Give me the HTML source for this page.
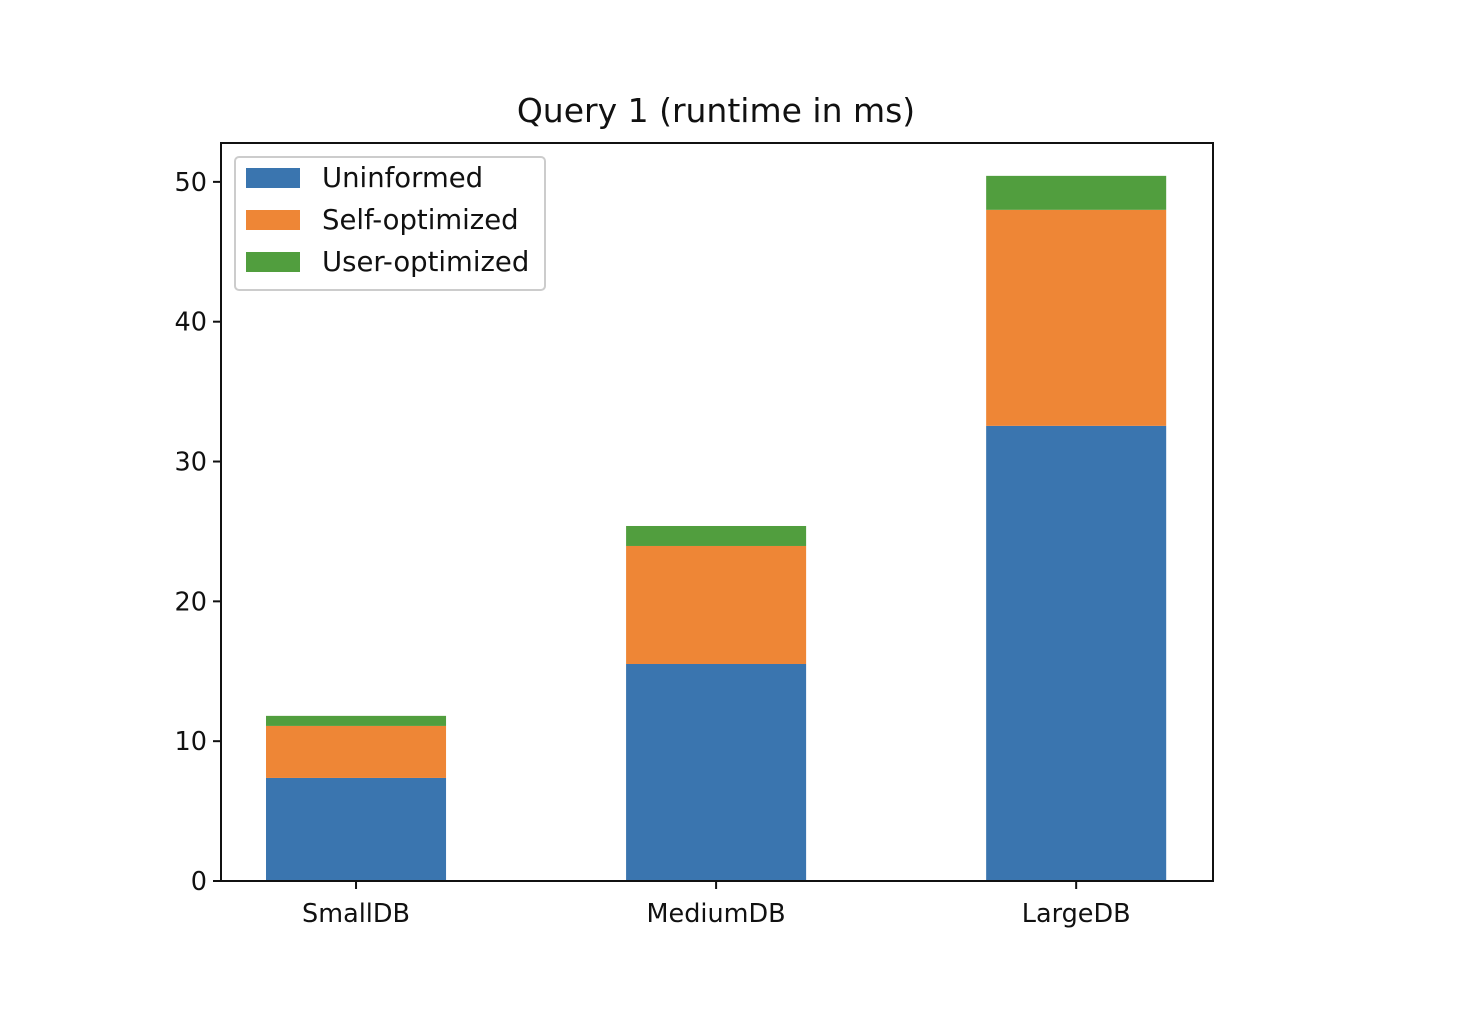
<!DOCTYPE html>
<html><head><meta charset="utf-8"><style>
html,body{margin:0;padding:0;background:#fff;}
svg{display:block;font-family:"DejaVu Sans","Liberation Sans",sans-serif;}
</style></head><body>
<svg id="chart" width="1476" height="1016">
<rect width="1476" height="1016" fill="#fff"/>
<text x="716" y="122" font-size="33" text-anchor="middle" fill="#111">Query 1 (runtime in ms)</text>
<g id="bars"></g>
<g id="axes"></g>
<rect x="221" y="143" width="992" height="738" fill="none" stroke="#111" stroke-width="2"/>
<g>
<rect x="235" y="157" width="310" height="133" rx="4" fill="#fff" fill-opacity="0.8" stroke="#ccc" stroke-width="2"/>
<g id="legend"></g>
</g>
</svg>
<script>
const categories = ["SmallDB","MediumDB","LargeDB"];
const seriesNames = ["Uninformed","Self-optimized","User-optimized"];
const uninformed = [7.37, 15.52, 32.55];
const selfOptimized = [3.72, 8.44, 15.45];
const userOptimized = [0.72, 1.43, 2.43];
const yTicks = [0,10,20,30,40,50];
const colors = ["#3a75af","#ee8636","#519e3e"];
const series = [uninformed, selfOptimized, userOptimized];

const NS = "http://www.w3.org/2000/svg";
const L=221,R=1213,T=143,B=881;
const xMin=-0.375,xMax=2.38,yMin=0,yMax=52.78;
function xs(v){return L+(v-xMin)/(xMax-xMin)*(R-L);}
function ys(v){return B-(v-yMin)/(yMax-yMin)*(B-T);}
function mk(tag,attrs,parent){const e=document.createElementNS(NS,tag);for(const k in attrs)e.setAttribute(k,attrs[k]);parent.appendChild(e);return e;}

const bars=document.getElementById('bars');
categories.forEach((c,i)=>{
  let base=0;
  series.forEach((s,j)=>{
    const top=base+s[i];
    const r=mk('rect',{x:xs(i-0.25),y:ys(top),width:xs(i+0.25)-xs(i-0.25),height:ys(base)-ys(top),fill:colors[j]},bars);
    
    
    base=top;
  });
});

const axes=document.getElementById('axes');
yTicks.forEach(t=>{
  const y=ys(t);
  const l=mk('line',{x1:L-8,x2:L,y1:y,y2:y,stroke:'#111','stroke-width':2},axes);
  
  
  const tx=mk('text',{x:L-14,y:y+9,'font-size':25.5,'text-anchor':'end',fill:'#111'},axes);
  tx.textContent=t;
  
  
});
categories.forEach((c,i)=>{
  const x=xs(i);
  const l=mk('line',{x1:x,x2:x,y1:B,y2:B+8,stroke:'#111','stroke-width':2},axes);
  
  
  const tx=mk('text',{x:x,y:B+41,'font-size':25.5,'text-anchor':'middle',fill:'#111'},axes);
  tx.textContent=c;
  
  
});

const leg=document.getElementById('legend');
seriesNames.forEach((n,j)=>{
  const y=178+j*42;
  const r=mk('rect',{x:246,y:y-10,width:54,height:20,fill:colors[j]},leg);
  
  
  const t=mk('text',{x:322,y:y+9,'font-size':27.5,fill:'#111'},leg);
  t.textContent=n;
  
  
});
</script>
</body></html>
